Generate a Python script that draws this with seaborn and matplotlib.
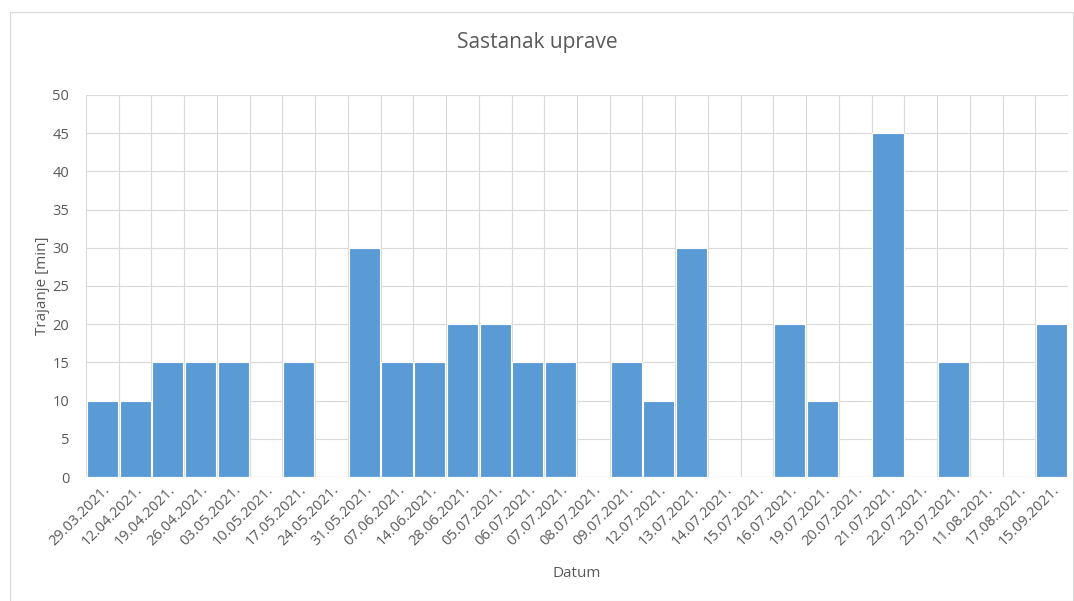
import numpy as np
import pandas as pd
import matplotlib.pyplot as plt
import seaborn as sns
from matplotlib.patches import Rectangle

datumi = ['29.03.2021.', '12.04.2021.', '19.04.2021.', '26.04.2021.', '03.05.2021.',
          '10.05.2021.', '17.05.2021.', '24.05.2021.', '31.05.2021.', '07.06.2021.',
          '14.06.2021.', '28.06.2021.', '05.07.2021.', '06.07.2021.', '07.07.2021.',
          '08.07.2021.', '09.07.2021.', '12.07.2021.', '13.07.2021.', '14.07.2021.',
          '15.07.2021.', '16.07.2021.', '19.07.2021.', '20.07.2021.', '21.07.2021.',
          '22.07.2021.', '23.07.2021.', '11.08.2021.', '17.08.2021.', '15.09.2021.']
trajanje = [10, 10, 15, 15, 15, 0, 15, 0, 30, 15,
            15, 20, 20, 15, 15, 0, 15, 10, 30, 0,
            0, 20, 10, 0, 45, 0, 15, 0, 0, 20]

df = pd.DataFrame({'Datum': datumi, 'Trajanje': trajanje})

sns.set_style('white')
plt.rcParams['font.family'] = ['Open Sans', 'DejaVu Sans']
txt = '#595959'

fig = plt.figure(figsize=(10.74, 6.01), dpi=100)
ax = fig.add_axes([0.0801, 0.2063, 0.9143, 0.6357])

sns.barplot(data=df, x='Datum', y='Trajanje', color='#5B9BD5', saturation=1,
            width=0.95, edgecolor='white', linewidth=0.8, ax=ax, zorder=3)

ax.set_xlim(-0.5, len(datumi) - 0.5)
ax.set_ylim(0, 50)
ax.set_yticks(np.arange(0, 51, 5))
ax.set_xticks(np.arange(len(datumi) + 1) - 0.5, minor=True)
ax.grid(True, which='minor', axis='x', color='#d9d9d9', linewidth=0.8, zorder=0)
ax.grid(True, which='major', axis='y', color='#d9d9d9', linewidth=0.8, zorder=0)
ax.tick_params(axis='x', which='both', length=0, pad=4)
ax.tick_params(axis='y', length=0, pad=12)
for s in ax.spines.values():
    s.set_visible(False)
ax.axhline(0, color='#d9d9d9', linewidth=0.8, zorder=4)

ax.set_xticks(range(len(datumi)))
ax.set_xticklabels(datumi, rotation=45, ha='right', rotation_mode='anchor',
                   fontsize=10.5, color=txt)
for lbl in ax.get_yticklabels():
    lbl.set_fontsize(10.5)
    lbl.set_color(txt)

ax.set_xlabel('Datum', fontsize=11, color=txt, labelpad=12)
ax.set_ylabel('Trajanje [min]', fontsize=11, color=txt, labelpad=2)
fig.text(0.5, 0.93, 'Sastanak uprave', ha='center', va='center',
         fontsize=15, color=txt)

fig.patches.append(Rectangle((0.009, 0.0), 0.99, 0.98, transform=fig.transFigure,
                             fill=False, edgecolor='#d9d9d9', linewidth=0.8))

fig.savefig('out.png', dpi=100, facecolor='white')
